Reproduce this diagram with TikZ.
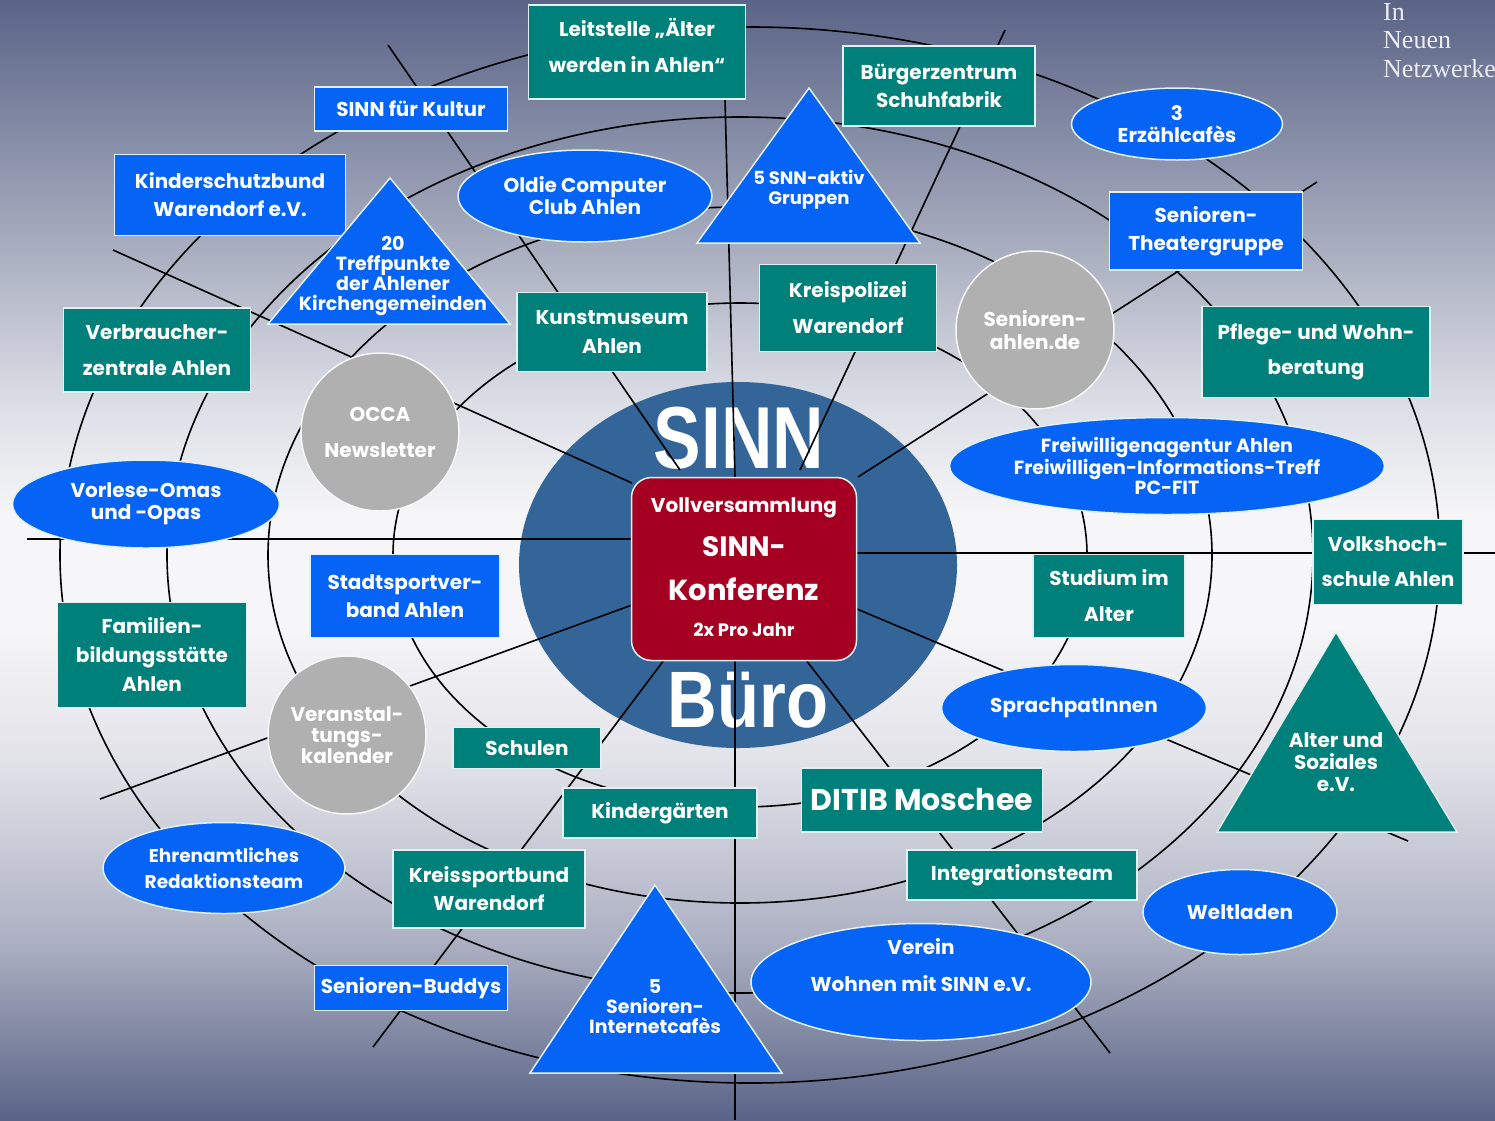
\documentclass[tikz,border=0pt]{standalone}
\usepackage{fontspec}
\setmainfont{Poppins}
\newfontfamily\notefont{Liberation Serif}
\newfontfamily\bigsans{Liberation Sans}
\usepackage{graphicx}
\usetikzlibrary{shapes.geometric}
\definecolor{bgdark}{RGB}{90,100,135}
\definecolor{bgA}{RGB}{168,173,191}
\definecolor{bgB}{RGB}{220,222,230}
\definecolor{bgmid}{RGB}{246,246,248}
\definecolor{bgC}{RGB}{226,226,233}
\definecolor{bgD}{RGB}{172,176,194}
\definecolor{tealc}{RGB}{0,128,122}
\definecolor{bluec}{RGB}{5,100,245}
\definecolor{grayc}{RGB}{176,176,176}
\definecolor{cblue}{RGB}{52,101,153}
\definecolor{redc}{RGB}{165,0,33}
\definecolor{edgec}{RGB}{225,240,240}
\definecolor{notec}{RGB}{236,236,242}
\pgfdeclareverticalshading{bgshade}{100bp}{color(0bp)=(bgdark); color(25bp)=(bgdark); color(33bp)=(bgD); color(41bp)=(bgC); color(47bp)=(bgmid); color(52bp)=(bgmid); color(57bp)=(bgB); color(64bp)=(bgA); color(75bp)=(bgdark); color(100bp)=(bgdark)}
\newcommand\nf[2]{\fontsize{#1}{#2}\selectfont\bfseries}
\begin{document}
\begin{tikzpicture}[x=1pt,y=-1pt,
  ring/.style={draw=black,line width=1.6pt},
  spoke/.style={draw=black,line width=1.6pt},
  nbase/.style={draw=edgec,line width=1.5pt,text=white,inner sep=0pt,align=center,font=\nf{20}{28}},
  tbox/.style={nbase,fill=tealc,rectangle},
  bbox/.style={nbase,fill=bluec,rectangle},
  bell/.style={nbase,fill=bluec,ellipse,font=\nf{20}{22}},
  gcirc/.style={nbase,fill=grayc,circle,draw=white!90!grayc},
  trishape/.style={fill=#1,draw=edgec,line width=1.5pt,line join=miter},
  ttext/.style={text=white,inner sep=0pt,align=center,font=\nf{19}{20}},
  wtext/.style={text=white,inner sep=0pt},
]
\useasboundingbox (0,0) rectangle (1495,1120);
\shade[shading=bgshade] (0,0) rectangle (1495,1120);

% rings
\coordinate (ctr) at (740,555);
\coordinate (ctrout) at (750,555);
\draw[ring] (ctr) ellipse [x radius=347pt, y radius=252pt];
\draw[ring] (ctr) ellipse [x radius=472pt, y radius=348pt];
\draw[ring] (ctr) ellipse [x radius=573pt, y radius=438pt];
\draw[ring] (ctrout) ellipse [x radius=690pt, y radius=528pt];

% centre
\node[ellipse,fill=cblue,minimum width=438pt,minimum height=366pt,inner sep=0pt] (buero) at (738,565) {};
\node[wtext] (sinnword) at (739,438) {\scalebox{0.81}[1]{\bigsans\bfseries\fontsize{88}{88}\selectfont SINN}};
\node[wtext,anchor=base] (bueroword) at (748,727) {\scalebox{0.86}[1]{\bigsans\bfseries\fontsize{80}{80}\selectfont Büro}};

% spokes
\coordinate (sAo) at (388,45);   \coordinate (sAi) at (680,470);
\coordinate (sBo) at (113,250);  \coordinate (sBi) at (632,483);
\coordinate (sKo) at (725,100);  \coordinate (sKi) at (735,477);
\coordinate (sCo) at (1005,30);  \coordinate (sCi) at (800,470);
\coordinate (sDo) at (1317,182); \coordinate (sDi) at (858,477);
\coordinate (sLo) at (27,539);   \coordinate (sLi) at (632,539);
\coordinate (sRo) at (1495,553); \coordinate (sRi) at (857,553);
\coordinate (sIo) at (100,799);  \coordinate (sIi) at (632,605);
\coordinate (sHo) at (373,1047); \coordinate (sHi) at (664,660);
\coordinate (sGo) at (1110,1053);\coordinate (sGi) at (806,660);
\coordinate (sFo) at (1408,841); \coordinate (sFi) at (857,609);
\coordinate (sVo) at (735,1120); \coordinate (sVi) at (735,660);
\foreach \s in {A,B,K,C,D,L,R,I,H,G,F,V}{\draw[spoke] (s\s o) -- (s\s i);}

% red box
\node[draw=edgec,line width=1.5pt,fill=redc,rounded corners=20pt,minimum width=225pt,minimum height=183pt,inner sep=0pt] (konfbox) at (744,569) {};
\node[wtext,anchor=base,font=\nf{20}{20}] (vv) at (744,512) {Vollversammlung};
\node[wtext,anchor=base,font=\nf{28}{28}] (sinnk) at (744,556) {SINN-};
\node[wtext,anchor=base,font=\nf{29}{29}] (konf) at (744,600) {Konferenz};
\node[wtext,anchor=base,font=\nf{18}{18}] (jahr) at (744,636) {2x Pro Jahr};

% teal boxes
\node[tbox,minimum width=217pt,minimum height=94pt] (leit) at (637,52) {};
\node[wtext,align=center,font=\nf{20}{36}] (leittxt) at (637,55) {\smash{Leitstelle „Älter}\\werden in Ahlen“};
\node[tbox,minimum width=192pt,minimum height=80pt] (buerger) at (939,86) {Bürgerzentrum\\Schuhfabrik};
\node[tbox,minimum width=190pt,minimum height=79pt,font=\nf{20}{29}] (kunst) at (612,332) {Kunstmuseum\\Ahlen};
\node[tbox,minimum width=177pt,minimum height=87pt,font=\nf{20}{36}] (polizei) at (848,308) {Kreispolizei\\Warendorf};
\node[tbox,minimum width=187pt,minimum height=84pt,font=\nf{20}{36}] (verbr) at (157,350) {Verbraucher-\\zentrale Ahlen};
\node[tbox,minimum width=228pt,minimum height=91pt,font=\nf{20}{35}] (pflege) at (1316,352) {Pflege- und Wohn-\\beratung};
\node[tbox,minimum width=189pt,minimum height=105pt,font=\nf{20}{29}] (familien) at (152,655) {Familien-\\bildungsstätte\\Ahlen};
\node[tbox,minimum width=152pt,minimum height=83pt,font=\nf{20}{36}] (studium) at (1109,596) {Studium im\\Alter};
\node[tbox,minimum width=150pt,minimum height=85pt,font=\nf{20}{35}] (vhs) at (1388,562) {Volkshoch-\\schule Ahlen};
\node[tbox,minimum width=148pt,minimum height=41pt] (schulen) at (527,748) {Schulen};
\node[tbox,minimum width=194pt,minimum height=50pt] (kita) at (660,813) {Kindergärten};
\node[tbox,minimum width=241pt,minimum height=64pt,font=\nf{30}{30}] (ditib) at (922,800) {DITIB Moschee};
\node[tbox,minimum width=230pt,minimum height=50pt] (integ) at (1022,875) {Integrationsteam};
\node[tbox,minimum width=192pt,minimum height=78pt] (kreissport) at (489,889) {Kreissportbund\\Warendorf};

% blue boxes
\node[bbox,minimum width=193pt,minimum height=44pt] (kultur) at (411,109) {SINN für Kultur};
\node[bbox,minimum width=231pt,minimum height=81pt] (kinder) at (230,195) {Kinderschutzbund\\Warendorf e.V.};
\node[bbox,minimum width=193pt,minimum height=78pt] (theater) at (1206,231) {Senioren-\\Theatergruppe};
\node[bbox,minimum width=190pt,minimum height=83pt] (stadtsport) at (405,596) {Stadtsportver-\\band Ahlen};
\node[bbox,minimum width=193pt,minimum height=45pt] (buddys) at (411,988) {Senioren-Buddys};

% blue ellipses
\node[bell,minimum width=254pt,minimum height=92pt] (oldie) at (585,196) {Oldie Computer\\Club Ahlen};
\node[bell,minimum width=211pt,minimum height=72pt] (erzaehl) at (1177,124) {3\\Erzählcafès};
\node[bell,minimum width=267pt,minimum height=88pt] (vorlese) at (146,504) {Vorlese-Omas\\und -Opas};
\node[bell,minimum width=435pt,minimum height=97pt,font=\nf{19}{20}] (freiw) at (1167,466) {Freiwilligenagentur Ahlen\\Freiwilligen-Informations-Treff\\PC-FIT};
\node[bell,minimum width=265pt,minimum height=87pt] (sprach) at (1074,708) {SprachpatInnen};
\node[bell,minimum width=242pt,minimum height=91pt,font=\nf{18.5}{26}] (ehren) at (224,868) {Ehrenamtliches\\Redaktionsteam};
\node[bell,minimum width=194pt,minimum height=85pt] (welt) at (1240,912) {Weltladen};
\node[bell,minimum width=340pt,minimum height=117pt] (verein) at (921,982) {};
\node[wtext,align=center,font=\nf{20}{37}] (vereintxt) at (921,965) {Verein\\Wohnen mit SINN e.V.};

% grey circles
\node[gcirc,minimum size=158pt,font=\nf{20}{36}] (occa) at (380,432) {OCCA\\Newsletter};
\node[gcirc,minimum size=158pt,font=\nf{20}{23}] (sahlen) at (1035,330) {Senioren-\\ahlen.de};
\node[gcirc,minimum size=158pt,font=\nf{20}{21}] (veran) at (347,735) {Veranstal-\\tungs-\\kalender};

% triangles
\filldraw[trishape=bluec] (809,88) -- (920,243) -- (697,243) -- cycle;
\node[ttext,font=\nf{18}{20}] (snn) at (809,190) {5 SNN-aktiv\\Gruppen};
\filldraw[trishape=bluec] (390,178) -- (510,324) -- (268,324) -- cycle;
\node[ttext] (treff) at (393,276) {20\\Treffpunkte\\der Ahlener\\Kirchengemeinden};
\filldraw[trishape=bluec] (655,885) -- (782,1073) -- (530,1073) -- cycle;
\node[ttext] (icafe) at (655,1007) {5\\Senioren-\\Internetcafès};
\filldraw[trishape=tealc] (1336,632) -- (1457,832) -- (1217,832) -- cycle;
\node[ttext,font=\nf{20}{22}] (soziales) at (1336,762) {Alter und\\Soziales\\e.V.};

% corner note
\node[anchor=base west,inner sep=0pt,text=notec,font=\notefont\fontsize{26}{26}\selectfont] (nin) at (1383,20) {In};
\node[anchor=base west,inner sep=0pt,text=notec,font=\notefont\fontsize{26}{26}\selectfont] (nneu) at (1383,48) {Neuen};
\node[anchor=base west,inner sep=0pt,text=notec,font=\notefont\fontsize{26}{26}\selectfont] (nnetz) at (1383,77) {Netzwerke};
\end{tikzpicture}
\end{document}
